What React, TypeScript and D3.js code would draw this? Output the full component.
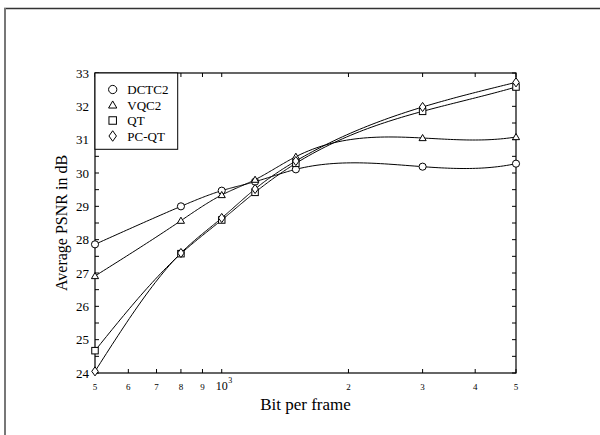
import React from "react";
import * as d3 from "d3";

const bitsPerFrame = [500, 800, 1000, 1200, 1500, 3000, 5000];
const dctc2 = [27.86, 29.0, 29.47, 29.74, 30.11, 30.19, 30.28];
const vqc2 = [26.91, 28.57, 29.34, 29.8, 30.49, 31.05, 31.08];
const qt = [24.67, 27.58, 28.59, 29.42, 30.29, 31.85, 32.58];
const pcqt = [24.05, 27.6, 28.65, 29.52, 30.36, 31.98, 32.72];
const seriesNames = ["DCTC2", "VQC2", "QT", "PC-QT"];
const seriesMarkers = ["circle", "triangle", "square", "diamond"];
const yTicks = [24, 25, 26, 27, 28, 29, 30, 31, 32, 33];
const xMinorTicks = [500, 600, 700, 800, 900, 1000, 2000, 3000, 4000, 5000];
const xTickLabels = ["5", "6", "7", "8", "9", "", "2", "3", "4", "5"];

const W = 600;
const H = 435;
const L = 95, R = 516, T = 73, B = 373;
const FONT = "'Liberation Serif', Tinos, 'Times New Roman', Times, serif";

function solve(A: number[][], b: number[]) {
  const n = b.length;
  const M = A.map((row, i) => [...row, b[i]]);
  for (let c = 0; c < n; c++) {
    let p = c;
    for (let r = c + 1; r < n; r++) if (Math.abs(M[r][c]) > Math.abs(M[p][c])) p = r;
    [M[c], M[p]] = [M[p], M[c]];
    for (let r = 0; r < n; r++) {
      if (r === c) continue;
      const f = M[r][c] / M[c][c];
      for (let k = c; k <= n; k++) M[r][k] -= f * M[c][k];
    }
  }
  return M.map((row, i) => row[n] / row[i]);
}

// cubic spline: natural at the start, not-a-knot at the end
function splineSampler(ts: number[], ys: number[]) {
  const n = ts.length;
  const h = d3.range(n - 1).map((i) => ts[i + 1] - ts[i]);
  const A: number[][] = d3.range(n).map(() => new Array(n).fill(0));
  const r: number[] = new Array(n).fill(0);
  for (let i = 1; i < n - 1; i++) {
    A[i][i - 1] = h[i - 1];
    A[i][i] = 2 * (h[i - 1] + h[i]);
    A[i][i + 1] = h[i];
    r[i] = 6 * ((ys[i + 1] - ys[i]) / h[i] - (ys[i] - ys[i - 1]) / h[i - 1]);
  }
  A[0][0] = 1;
  A[n - 1][n - 3] = h[n - 2];
  A[n - 1][n - 2] = -(h[n - 3] + h[n - 2]);
  A[n - 1][n - 1] = h[n - 3];
  const M = solve(A, r);
  return (t: number) => {
    let i = 0;
    while (i < n - 2 && t > ts[i + 1]) i++;
    const hi = h[i];
    const t1 = ts[i + 1] - t;
    const t0 = t - ts[i];
    return (
      (M[i] * t1 * t1 * t1) / (6 * hi) +
      (M[i + 1] * t0 * t0 * t0) / (6 * hi) +
      (ys[i] / hi - (M[i] * hi) / 6) * t1 +
      (ys[i + 1] / hi - (M[i + 1] * hi) / 6) * t0
    );
  };
}

function Marker({ kind, x, y, s }: { kind: string; x: number; y: number; s: number }) {
  const common = { fill: "white", stroke: "black", strokeWidth: 1 };
  if (kind === "circle") return <circle cx={x} cy={y} r={s * 0.55} {...common} />;
  if (kind === "square")
    return <rect x={x - s / 2} y={y - s / 2} width={s} height={s} {...common} />;
  if (kind === "triangle") {
    const h = s * 0.9;
    return (
      <path
        d={`M${x},${y - h * 0.6}L${x + s * 0.55},${y + h * 0.45}L${x - s * 0.55},${y + h * 0.45}Z`}
        {...common}
      />
    );
  }
  return (
    <path
      d={`M${x},${y - s * 0.7}L${x + s * 0.5},${y}L${x},${y + s * 0.7}L${x - s * 0.5},${y}Z`}
      {...common}
    />
  );
}

export default function App() {
  const x = d3.scaleLog().domain([500, 5000]).range([L, R]);
  const y = d3.scaleLinear().domain([24, 33]).range([B, T]);
  const allSeries = [dctc2, vqc2, qt, pcqt];
  const line = d3
    .line<[number, number]>()
    .x((d) => d[0])
    .y((d) => y(d[1]));
  const yMinor = d3.range(24, 33.01, 0.5);
  const textStyle = { fontFamily: FONT, fill: "black" } as React.CSSProperties;

  const pathFor = (s: number[]) => {
    const px = bitsPerFrame.map((b) => x(b));
    const f = splineSampler(px, s);
    const pts: [number, number][] = [];
    for (let i = 0; i < px.length - 1; i++) {
      for (let k = 0; k < 30; k++) {
        const xv = px[i] + ((px[i + 1] - px[i]) * k) / 30;
        pts.push([xv, f(xv)]);
      }
    }
    pts.push([px[px.length - 1], s[s.length - 1]]);
    return line(pts) || "";
  };

  return (
    <svg
      width={W}
      height={H}
      style={{ position: "absolute", left: 0, top: 0, background: "white", fontFamily: FONT }}
    >
      <rect x={0} y={0} width={W} height={H} fill="white" />
      <line x1={4} y1={8.5} x2={W} y2={8.5} stroke="#333" strokeWidth={1.5} />
      <line x1={5} y1={8} x2={5} y2={H} stroke="#777" strokeWidth={2} />

      <rect x={L} y={T} width={R - L} height={B - T} fill="none" stroke="black" strokeWidth={1.2} />

      {yMinor.map((v) => (
        <g key={"yt" + v}>
          <line x1={L} x2={L + 4} y1={y(v)} y2={y(v)} stroke="black" strokeWidth={1} />
          <line x1={R} x2={R - 4} y1={y(v)} y2={y(v)} stroke="black" strokeWidth={1} />
        </g>
      ))}
      {yTicks.map((v) => (
        <text key={"yl" + v} x={L - 6} y={y(v)} textAnchor="end" dominantBaseline="central" fontSize={13} style={textStyle}>
          {v}
        </text>
      ))}

      {xMinorTicks.map((v, i) => (
        <g key={"xt" + v}>
          <line x1={x(v)} x2={x(v)} y1={B} y2={B - 4} stroke="black" strokeWidth={1} />
          <line x1={x(v)} x2={x(v)} y1={T} y2={T + 4} stroke="black" strokeWidth={1} />
          {xTickLabels[i] && (
            <text x={x(v)} y={B + 14} textAnchor="middle" dominantBaseline="central" fontSize={9} style={textStyle}>
              {xTickLabels[i]}
            </text>
          )}
        </g>
      ))}
      <text x={x(1000)} y={B + 17} textAnchor="middle" fontSize={12} style={textStyle}>
        10
      </text>
      <text x={x(1000) + 8.5} y={B + 10} textAnchor="middle" fontSize={8} style={textStyle}>
        3
      </text>

      <text x={(L + R) / 2} y={B + 37} textAnchor="middle" fontSize={17} style={textStyle}>
        Bit per frame
      </text>
      <text
        transform={`translate(${67},${(T + B) / 2}) rotate(-90)`}
        textAnchor="middle"
        fontSize={16}
        style={textStyle}
      >
        Average PSNR in dB
      </text>

      {allSeries.map((s, k) => (
        <path key={"l" + k} d={pathFor(s)} fill="none" stroke="black" strokeWidth={1} />
      ))}
      {allSeries.map((s, k) =>
        s.map((v, i) => (
          <Marker key={"m" + k + "-" + i} kind={seriesMarkers[k]} x={x(bitsPerFrame[i])} y={y(v)} s={6.5} />
        ))
      )}

      <rect x={L} y={T} width={82.7} height={76.3} fill="white" stroke="black" strokeWidth={1} />
      {seriesNames.map((n, k) => (
        <g key={"lg" + n}>
          <Marker kind={seriesMarkers[k]} x={112.7} y={89.5 + k * 15.5} s={7.5} />
          <text x={127.3} y={89.5 + k * 15.5} dominantBaseline="central" fontSize={13} style={textStyle}>
            {n}
          </text>
        </g>
      ))}
    </svg>
  );
}
